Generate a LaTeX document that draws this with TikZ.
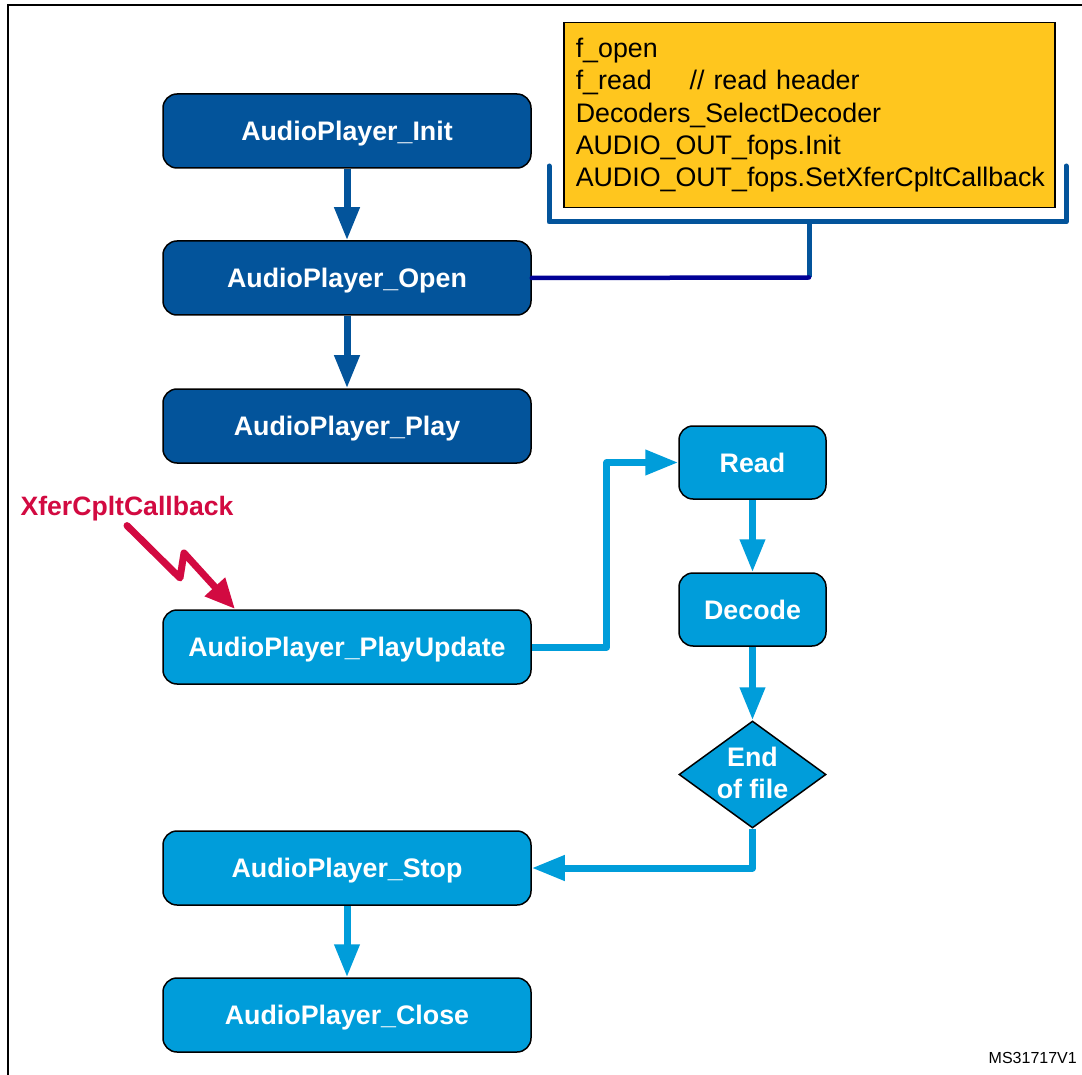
\documentclass[tikz,border=0pt]{standalone}
\usepackage{fontspec}
\setmainfont{Liberation Sans}
\usetikzlibrary{arrows.meta,shapes.geometric}
\definecolor{dblue}{RGB}{3,84,155}
\definecolor{lblue}{RGB}{0,157,218}
\definecolor{yel}{RGB}{255,198,30}
\definecolor{navy}{RGB}{0,0,150}
\definecolor{cbred}{RGB}{210,10,65}
\tikzset{
  dbox/.style={rectangle, rounded corners=14pt, draw=black, line width=1.5pt, fill=dblue,
    text=white, font=\bfseries\fontsize{26.8}{32}\selectfont,
    text height=19pt, text depth=0pt,
    minimum width=368pt, minimum height=74pt, inner sep=0pt},
  lbox/.style={dbox, fill=lblue},
  sbox/.style={lbox, minimum width=147pt, minimum height=73pt},
  darr/.style={line width=7pt, draw=dblue, line join=round, -{Triangle[width=24pt,length=33pt]}},
  larr/.style={darr, draw=lblue},
  bracketline/.style={line width=5pt, draw=dblue, line cap=round, line join=round},
}
\begin{document}
\begin{tikzpicture}[x=1pt,y=-1pt]
\useasboundingbox (0,0) rectangle (1082,1075);
% frame (cut)
\draw[line width=2.5pt] (8,1075) -- (8,5) -- (1082,5);

% main column
\node[dbox] (init)  at (347,131) {AudioPlayer\_Init};
\node[dbox] (open)  at (347,278) {AudioPlayer\_Open};
\node[dbox] (play)  at (347,426) {AudioPlayer\_Play};
\node[lbox] (pu)    at (347,647) {AudioPlayer\_PlayUpdate};
\node[lbox] (stop)  at (347,868) {AudioPlayer\_Stop};
\node[lbox] (close) at (347,1015) {AudioPlayer\_Close};

% right column
\node[sbox] (read)   at (752.5,462.5) {Read};
\node[sbox] (decode) at (752.5,609.5) {Decode};
\node[diamond, draw=black, line width=1.5pt, fill=lblue, minimum width=147pt,
      minimum height=107pt, inner sep=0pt, aspect=1.37] (eof) at (752.5,774.5) {};
\node[text=white, font=\bfseries\fontsize{26.8}{32}\selectfont, align=center, inner sep=0pt]
      (eoftext) at (752.5,773) {End\\of file};

% yellow note
\node[rectangle, draw=black, line width=1.5pt, fill=yel, anchor=north west,
      minimum width=491pt, minimum height=185pt, text width=467pt, inner sep=12pt,
      align=left, font=\fontsize{26.8}{32.3}\selectfont] (note) at (563,22)
  {f\_open\\
   \makebox[114pt][l]{f\_read}// read header\\
   Decoders\_SelectDecoder\\
   AUDIO\_OUT\_fops.Init\\
   AUDIO\_OUT\_fops.SetXferCpltCallback};

% bracket under note
\coordinate (stemtop) at (809,222);
\coordinate (stembot) at (809,277.5);
\draw[bracketline] (549,166) -- (549,222) -- (1066,222) -- (1066,166);
\draw[bracketline, line cap=butt] (stemtop) -- (stembot);
\draw[navy, line width=4.5pt, line cap=round] (open.east) -- (stembot);

% connectors
\draw[darr] (init) -- (open);
\draw[darr] (open) -- (play);
\draw[larr] (stop) -- (close);
\draw[larr] (read) -- (decode);
\draw[larr] (decode) -- (eof.north);
\draw[larr] (pu.east) -- ++(75,0) |- (read.west);
\draw[larr] (eof.south) |- (stop.east);

% callback
\node[text=cbred, font=\bfseries\fontsize{26.6}{32}\selectfont, inner sep=0pt] (cb) at (127,509) {XferCpltCallback};
\coordinate (cbtip) at (235,609);
\draw[cbred, line width=7pt, line join=round, line cap=round, -{Triangle[width=26pt,length=30pt]}]
  ([yshift=-4pt]cb.south) -- (180,578) -- (184,553) -- (cbtip);

% id
\node[font=\fontsize{16}{18}\selectfont, anchor=east, inner sep=0pt] (msid) at (1077,1058) {MS31717V1};
\end{tikzpicture}
\end{document}
